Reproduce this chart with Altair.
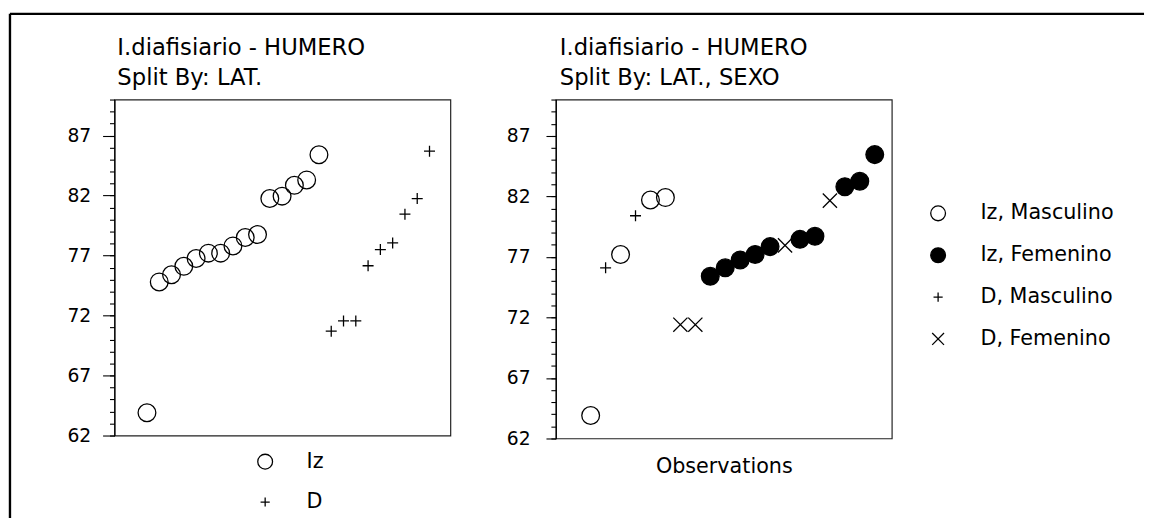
import altair as alt
import pandas as pd

FONT = "DejaVu Sans"

# ---- Left panel: I.diafisiario - HUMERO, split by LAT. (values in observation order)
lat_domain = ["Iz", "D"]
iz_values = [63.9, 74.8, 75.4, 76.1, 76.75, 77.2, 77.2, 77.8, 78.5, 78.75,
             81.75, 81.95, 82.85, 83.3, 85.4]
d_values = [70.7, 71.55, 71.55, 76.15, 77.5, 78.05, 80.45, 81.75, 85.7]

# ---- Right panel: split by LAT., SEXO (values in observation order)
group_domain = ["Iz, Masculino", "Iz, Femenino", "D, Masculino", "D, Femenino"]
right_groups = ["Iz, Masculino", "D, Masculino", "Iz, Masculino", "D, Masculino",
                "Iz, Masculino", "Iz, Masculino", "D, Femenino", "D, Femenino",
                "Iz, Femenino", "Iz, Femenino", "Iz, Femenino", "Iz, Femenino",
                "Iz, Femenino", "D, Femenino", "Iz, Femenino", "Iz, Femenino",
                "D, Femenino", "Iz, Femenino", "Iz, Femenino", "Iz, Femenino"]
right_values = [63.9, 76.1, 77.2, 80.4, 81.7, 81.9, 71.4, 71.4, 75.4, 76.1,
                76.75, 77.2, 77.85, 77.95, 78.45, 78.7, 81.65, 82.8, 83.25, 85.45]

y_major = [62, 67, 72, 77, 82, 87]
y_minor = [62, 63, 64, 65, 66, 67, 68, 69, 70, 71, 72, 73, 74, 75, 76,
           77, 78, 79, 80, 81, 82, 83, 84, 85, 86, 87, 88, 89, 90]

title_left = ["I.diafisiario - HUMERO", "Split By: LAT."]
title_right = ["I.diafisiario - HUMERO", "Split By: LAT., SEXO"]
x_title_right = "Observations"

PLUS = "M-0.62,0L0.62,0M0,-0.62L0,0.62"
CROSS = "M-0.8,-0.8L0.8,0.8M-0.8,0.8L0.8,-0.8"

left_df = pd.DataFrame({
    "obs": list(range(1, len(iz_values) + len(d_values) + 1)),
    "lat": ["Iz"] * len(iz_values) + ["D"] * len(d_values),
    "val": iz_values + d_values,
})
right_df = pd.DataFrame({
    "obs": list(range(1, len(right_values) + 1)),
    "grp": right_groups,
    "val": right_values,
})

Y_DOMAIN = [62, 90]


def y_layers(base, xenc, tick_major, pad_major, mark_kwargs, extra):
    yscale = alt.Scale(domain=Y_DOMAIN, nice=False, zero=False)
    minor = base.mark_point(opacity=0, size=1).encode(
        x=xenc,
        y=alt.Y("val:Q", scale=yscale, title=None,
                axis=alt.Axis(values=y_minor, tickSize=5, labels=False,
                              domain=False, orient="left", grid=False)),
    )
    pts = base.mark_point(**mark_kwargs).encode(
        x=xenc,
        y=alt.Y("val:Q", scale=yscale, title=None,
                axis=alt.Axis(values=y_major, tickSize=tick_major,
                              labelPadding=pad_major, orient="left",
                              grid=False, domain=True)),
        **extra,
    )
    return minor, pts


# ---------------- left panel
left_base = alt.Chart(left_df)
left_x = alt.X("obs:Q", scale=alt.Scale(domain=[-1.65, 25.7], nice=False, zero=False),
               axis=None)
left_minor, left_pts = y_layers(
    left_base, left_x, 12, 12,
    dict(filled=False, stroke="black", strokeWidth=1.3, size=324, opacity=1),
    dict(shape=alt.Shape("lat:N",
                         scale=alt.Scale(domain=lat_domain, range=["circle", PLUS]),
                         legend=alt.Legend(title=None, orient="none", legendX=142.5,
                                           legendY=357, symbolSize=225,
                                           labelOffset=31.5, rowPadding=19,
                                           symbolStrokeColor="black",
                                           symbolFillColor="transparent",
                                           symbolStrokeWidth=1.3, padding=0))),
)

left = alt.layer(left_minor, left_pts).resolve_axis(y="independent").properties(
    width=341, height=341,
    title=alt.TitleParams(title_left, dx=3, frame="group"),
)

# ---------------- right panel
right_base = alt.Chart(right_df)
right_x = alt.X("obs:Q", scale=alt.Scale(domain=[-1.33, 21.14], nice=False, zero=False),
                axis=alt.Axis(title=x_title_right, labels=False, ticks=False,
                              domain=False, grid=False, titlePadding=18))
right_legend = alt.Legend(title=None, orient="none", legendX=377.5, legendY=105,
                          symbolSize=225, labelOffset=32.5, rowPadding=20.5,
                          symbolStrokeColor="black", symbolFillColor="transparent",
                          symbolStrokeWidth=1.3, padding=0)
right_minor, right_pts = y_layers(
    right_base, right_x, 10, 16,
    dict(filled=True, stroke="black", strokeWidth=1.3, size=324, opacity=1),
    dict(
        shape=alt.Shape("grp:N",
                        scale=alt.Scale(domain=group_domain,
                                        range=["circle", "circle", PLUS, CROSS]),
                        legend=right_legend),
        fill=alt.Fill("grp:N",
                      scale=alt.Scale(domain=group_domain,
                                      range=["transparent", "black", "transparent", "transparent"]),
                      legend=right_legend),
    ),
)

right = alt.layer(right_minor, right_pts).resolve_axis(y="independent").properties(
    width=341, height=344,
    title=alt.TitleParams(title_right, dx=4, frame="group"),
)

panels = alt.hconcat(left, right, spacing=107, bounds="flush").resolve_scale(
    shape="independent", fill="independent"
).resolve_legend(shape="independent", fill="independent")

# ---------------- outer frame (top and left border lines of the figure)
frame_df = pd.DataFrame({"k": [0]})
frame_top = alt.Chart(frame_df).mark_rule(color="black", strokeWidth=2.4).encode(
    x=alt.value(-106), x2=alt.value(1045), y=alt.value(0))
frame_left = alt.Chart(frame_df).mark_rule(color="black", strokeWidth=2.4).encode(
    x=alt.value(-106), y=alt.value(0), y2=alt.value(520))
frame = alt.layer(frame_top, frame_left).properties(
    width=1, height=1, view=alt.ViewConfig(stroke="transparent"))

chart = alt.vconcat(frame, panels, spacing=86, bounds="flush").properties(
    padding={"left": 0, "top": 0, "right": 0, "bottom": 0},
    background="white",
).configure_view(
    stroke="#222", strokeWidth=1.2
).configure_axis(
    domainColor="black", domainWidth=1.2, tickColor="black", tickWidth=1.1,
    labelColor="black", labelFont=FONT, labelFontSize=19,
    titleFont=FONT, titleFontSize=21, titleColor="black", titleFontWeight="normal",
).configure_title(
    font=FONT, fontSize=23, fontWeight="normal", color="black", anchor="start",
    lineHeight=31, offset=9,
).configure_legend(
    labelFont=FONT, labelFontSize=21, labelColor="black",
)

chart.save("out.html", embed_options={"renderer": "svg", "actions": False})
